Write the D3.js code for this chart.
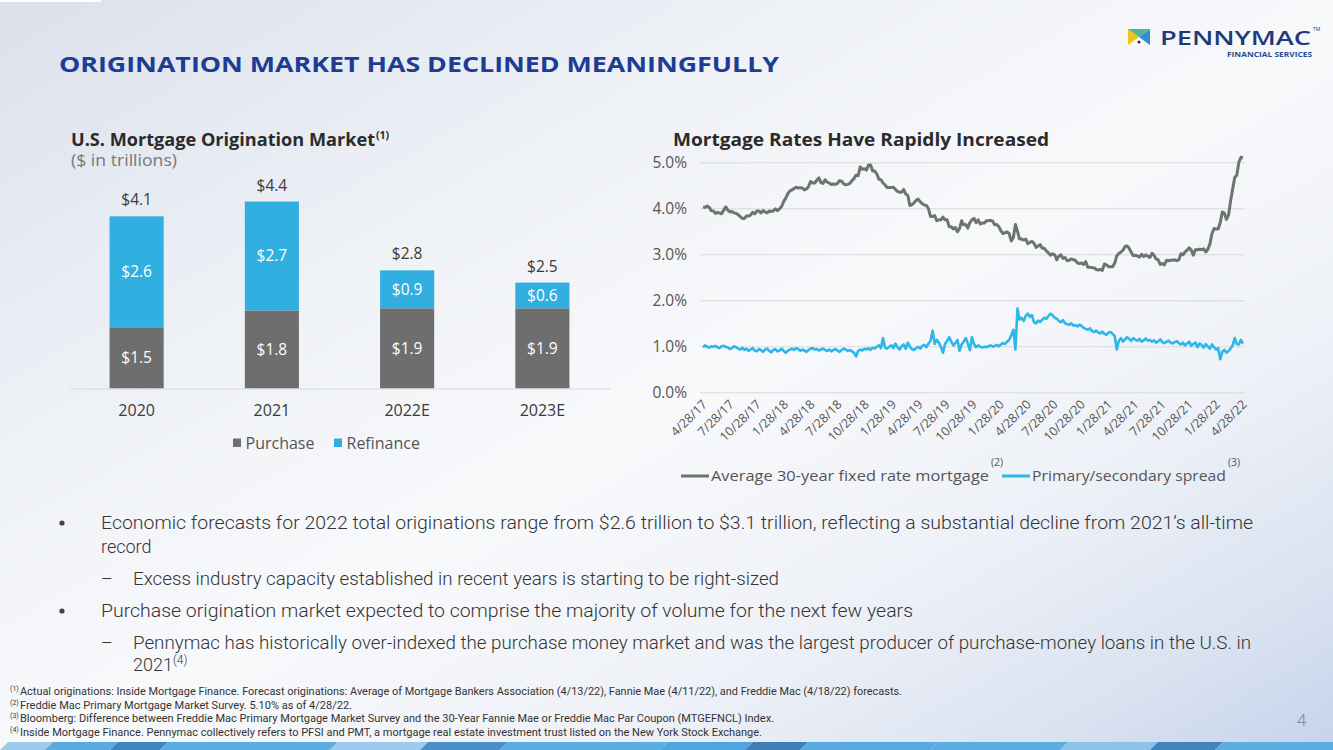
<!DOCTYPE html>
<html><head><meta charset="utf-8">
<script src="https://cdn.jsdelivr.net/npm/d3@7"></script>
<style>
html,body{margin:0;padding:0;width:1333px;height:750px;overflow:hidden;background:#fff;}
svg{display:block;}
</style></head><body>
<svg id="c" width="1333" height="750"></svg>
<script>
// ---------------- DATA ----------------
const barCategories = ["2020", "2021", "2022E", "2023E"];
const purchaseValues = [1.45, 1.85, 1.90, 1.90];
const refinanceValues = [2.63, 2.58, 0.90, 0.61];
const purchaseLabels = ["$1.5", "$1.8", "$1.9", "$1.9"];
const refinanceLabels = ["$2.6", "$2.7", "$0.9", "$0.6"];
const totalLabels = ["$4.1", "$4.4", "$2.8", "$2.5"];
const barSeriesNames = ["Purchase", "Refinance"];

const rateFirstWeek = "2017-04-27";   // weekly observations (Thursdays)
const rateLastWeek = "2022-04-28";
const mortgageRate = [
  4.03,4.02,4.05,4.02,3.95, 3.94,3.89,3.91,3.90,3.88, 3.96,4.03,3.96,3.92, 3.93,3.90,3.89,3.86,3.82,
  3.78,3.78,3.83,3.83, 3.85,3.91,3.88,3.94, 3.94,3.90,3.95,3.92,3.90, 3.94,3.93,3.94,3.99,
  3.95,3.99,4.04,4.15, 4.22,4.32,4.38,4.40, 4.43,4.46,4.44,4.45,4.44, 4.40,4.42,4.47,4.58,
  4.55,4.55,4.61,4.66,4.56, 4.54,4.62,4.57,4.55, 4.52,4.53,4.52,4.54, 4.60,4.59,4.53,4.51,4.52,
  4.54,4.60,4.65,4.72, 4.71,4.90,4.85,4.86, 4.83,4.94,4.94,4.81,4.81, 4.75,4.63,4.62,4.55,
  4.51,4.45,4.45,4.45,4.46, 4.41,4.37,4.35,4.35, 4.41,4.31,4.28,4.06, 4.08,4.12,4.17,4.20,
  4.14,4.10,4.07,4.06,3.99, 3.82,3.82,3.84,3.73, 3.75,3.75,3.81,3.75, 3.75,3.60,3.60,3.55,3.58,
  3.49,3.56,3.73,3.64, 3.65,3.57,3.69,3.75,3.78, 3.69,3.75,3.66,3.68, 3.68,3.73,3.73,3.74,
  3.72,3.64,3.65,3.60,3.51, 3.45,3.47,3.49,3.45, 3.29,3.36,3.65,3.50, 3.33,3.33,3.31,3.33,3.23,
  3.26,3.28,3.24,3.15, 3.18,3.21,3.13,3.13, 3.07,3.03,2.98,3.01,2.99, 2.88,2.96,2.99,2.91,
  2.93,2.86,2.87,2.90, 2.88,2.87,2.81,2.80,2.81, 2.78,2.84,2.72,2.72, 2.71,2.71,2.67,2.66,2.67,
  2.65,2.79,2.77,2.73, 2.73,2.73,2.81,2.97, 3.02,3.05,3.09,3.17, 3.18,3.13,3.04,2.97,2.98,
  2.96,2.94,3.00,2.95, 2.99,2.96,2.93,3.02, 2.98,2.90,2.88,2.78,2.80, 2.77,2.87,2.86,2.87,
  2.87,2.88,2.86,2.88,3.01, 2.99,3.05,3.09,3.14, 3.09,2.98,3.10,3.10, 3.11,3.10,3.12,3.05,3.11,
  3.22,3.45,3.56,3.55, 3.55,3.69,3.92,3.89, 3.76,3.85,4.16,4.42,4.67, 4.72,5.00,5.11,5.10
];
const spreadRate = [
  0.98,1.02,0.99,0.97,1.00,0.99,1.01,0.98,0.96,1.00,1.01,0.99,0.97,0.94,0.96,1.00,0.98,0.95,0.93,0.97,
  0.92,0.95,0.90,0.93,0.96,0.91,0.89,0.94,0.92,0.88,0.93,0.95,0.90,0.87,0.92,0.94,0.89,0.91,0.95,0.90,0.86,0.90,
  0.93,0.95,0.92,0.96,0.94,0.90,0.93,0.91,0.88,0.92,0.95,0.96,0.93,0.94,0.91,0.93,0.95,0.92,0.90,0.93,
  0.89,0.92,0.94,0.91,0.88,0.92,0.95,0.93,0.90,0.92,0.89,0.86,
  0.78,0.90,0.93,0.91,0.95,0.93,0.96,0.92,0.97,0.95,0.99,1.02,0.96,
  1.18,0.97,0.95,0.99,1.02,0.96,1.06,0.98,0.93,1.00,1.04,0.95,1.08,0.99,0.94,0.92,0.96,0.99,0.95,1.01,1.03,0.98,1.06,1.12,
  1.34,1.05,1.14,1.08,0.99,0.86,1.05,1.12,1.20,1.10,1.02,1.07,1.14,0.90,1.04,1.10,1.18,1.06,0.92,1.20,1.05,0.98,1.02,0.99,
  0.97,0.99,0.98,1.00,1.02,0.99,1.01,1.03,1.00,1.04,1.07,1.05,1.10,1.14,1.24,1.36,0.93,
  1.82,1.58,1.62,1.55,1.66,1.71,1.64,1.68,1.52,1.50,1.56,1.53,1.58,1.62,1.60,1.66,1.71,1.67,1.62,1.60,1.55,1.52,1.57,1.50,
  1.48,1.47,1.50,1.45,1.46,1.43,1.47,1.44,1.40,1.38,1.36,1.39,1.33,1.31,1.34,1.30,1.28,1.32,1.27,1.25,1.30,1.31,1.27,1.22,
  0.93,1.12,1.18,1.10,1.15,1.20,1.16,1.12,1.18,1.14,1.12,1.16,1.10,1.13,1.17,1.12,1.14,
  1.10,1.13,1.08,1.11,1.15,1.09,1.07,1.10,1.12,1.08,1.06,1.09,1.11,1.07,1.04,1.08,
  1.02,1.06,1.10,1.01,1.05,1.08,0.98,1.06,1.03,0.97,1.05,1.00,0.95,1.04,0.98,0.93,
  0.96,0.72,0.88,0.92,0.86,0.90,0.95,1.02,1.18,1.05,1.04,1.14,1.06
];
const rateTicks = [0, 1, 2, 3, 4, 5];
const dateTickLabels = ["4/28/17","7/28/17","10/28/17","1/28/18","4/28/18","7/28/18","10/28/18",
  "1/28/19","4/28/19","7/28/19","10/28/19","1/28/20","4/28/20","7/28/20","10/28/20",
  "1/28/21","4/28/21","7/28/21","10/28/21","1/28/22","4/28/22"];
const lineSeriesNames = ["Average 30-year fixed rate mortgage", "Primary/secondary spread"];
const lineSeriesNotes = ["(2)", "(3)"];

(function () {
// ---------------- STYLE ----------------
const C = {
  navy: "#1d3c94", text: "#3a3a3a", grid: "#d9d9d9",
  purchase: "#6e6e6e", refi: "#30afe0",
  rateLine: "#6d746e", spreadLine: "#2db6e8"
};
const chartFont = "'Open Sans', 'Noto Sans', sans-serif";
const bodyFont = "Roboto, 'Noto Sans', sans-serif";

const svg = d3.select("#c");
const defs = svg.append("defs");

// background
const bg = defs.append("linearGradient").attr("id", "bg")
  .attr("x1", 0).attr("y1", 0).attr("x2", 1).attr("y2", 1);
[[0, "#dbe1ec"], [0.3, "#eef1f6"], [0.52, "#f8f9fb"], [0.72, "#eef1f7"], [0.88, "#dbe3f1"], [1, "#c6d3ec"]]
  .forEach(([o, c]) => bg.append("stop").attr("offset", o).attr("stop-color", c));
svg.append("rect").attr("width", 1333).attr("height", 750).attr("fill", "url(#bg)");
svg.append("rect").attr("x", 0).attr("y", 0).attr("width", 101).attr("height", 2).attr("fill", "#ffffff");

// title
svg.append("text").attr("x", 59).attr("y", 72)
  .attr("font-family", chartFont).attr("font-weight", 700).attr("font-size", 22)
  .attr("fill", C.navy).attr("textLength", 720).attr("lengthAdjust", "spacingAndGlyphs")
  .text("ORIGINATION MARKET HAS DECLINED MEANINGFULLY");

// logo
const logo = svg.append("g");
logo.append("polygon").attr("points", "1128,29 1139,37 1128,45").attr("fill", "#f2c417");
logo.append("polygon").attr("points", "1128,29 1150,29 1139,37").attr("fill", "#4fb893");
logo.append("polygon").attr("points", "1150,29 1150,45 1139,37").attr("fill", "#2f8fd0");
logo.append("polygon").attr("points", "1134,45 1139,37 1144,45").attr("fill", "#ffffff");
logo.append("circle").attr("cx", 1139).attr("cy", 42).attr("r", 1.6).attr("fill", "#1d2f6a");
logo.append("text").attr("x", 1160).attr("y", 45)
  .attr("font-family", "'Open Sans', sans-serif").attr("font-weight", 600).attr("font-size", 20)
  .attr("fill", "#1e3a7b").attr("textLength", 151).attr("lengthAdjust", "spacingAndGlyphs").text("PENNYMAC");
logo.append("text").attr("x", 1313).attr("y", 31).attr("font-family", chartFont)
  .attr("font-size", 5).attr("fill", "#1e3a7b").text("TM");
logo.append("text").attr("x", 1227).attr("y", 57)
  .attr("font-family", chartFont).attr("font-weight", 700).attr("font-size", 7.5)
  .attr("fill", "#2a4a8c").attr("textLength", 85).attr("lengthAdjust", "spacingAndGlyphs").text("FINANCIAL SERVICES");

// ---------------- LEFT: stacked bars ----------------
const left = svg.append("g");
left.append("text").attr("x", 71).attr("y", 146)
  .attr("font-family", chartFont).attr("font-weight", 700).attr("font-size", 17.5).attr("fill", "#2b2b2b")
  .attr("textLength", 304).attr("lengthAdjust", "spacingAndGlyphs")
  .text("U.S. Mortgage Origination Market");
left.append("text").attr("x", 376).attr("y", 139)
  .attr("font-family", chartFont).attr("font-weight", 700).attr("font-size", 10.5).attr("fill", "#2b2b2b").text("(1)");
left.append("text").attr("x", 71).attr("y", 166)
  .attr("font-family", chartFont).attr("font-size", 15.5).attr("fill", "#777")
  .attr("textLength", 106).attr("lengthAdjust", "spacingAndGlyphs").text("($ in trillions)");

const xb = d3.scaleBand().domain(barCategories).range([69, 610]).paddingInner(0.6).paddingOuter(0.3);
const yb = d3.scaleLinear().domain([0, 5]).range([388.5, 177.5]);

const stackRows = barCategories.map((c, i) => ({ cat: c, Purchase: purchaseValues[i], Refinance: refinanceValues[i] }));
const stacked = d3.stack().keys(barSeriesNames)(stackRows);
const segLabels = { Purchase: purchaseLabels, Refinance: refinanceLabels };
const segColor = { Purchase: C.purchase, Refinance: C.refi };

stacked.forEach(layer => {
  const g = left.append("g");
  g.selectAll("rect").data(layer).join("rect")
    .attr("x", d => xb(d.data.cat)).attr("width", xb.bandwidth())
    .attr("y", d => yb(d[1])).attr("height", d => yb(d[0]) - yb(d[1]))
    .attr("fill", segColor[layer.key]);
  g.selectAll("text").data(layer).join("text")
    .attr("x", d => xb(d.data.cat) + xb.bandwidth() / 2)
    .attr("y", d => (yb(d[0]) + yb(d[1])) / 2 + 5.5)
    .attr("text-anchor", "middle").attr("font-family", chartFont).attr("font-size", 15.5)
    .attr("fill", "#ffffff").text((d, i) => segLabels[layer.key][i]);
});
const topLayer = stacked[stacked.length - 1];
left.selectAll("text.tot").data(topLayer).join("text").attr("class", "tot")
  .attr("x", d => xb(d.data.cat) + xb.bandwidth() / 2).attr("y", d => yb(d[1]) - 11)
  .attr("text-anchor", "middle").attr("font-family", chartFont).attr("font-size", 15.5)
  .attr("fill", C.text).text((d, i) => totalLabels[i]);

const xAxisB = left.append("g").attr("transform", "translate(0,388.5)")
  .call(d3.axisBottom(xb).tickSize(0).tickPadding(16));
xAxisB.select(".domain").attr("stroke", C.grid).attr("stroke-width", 1.2);
xAxisB.selectAll("text").attr("font-family", chartFont).attr("font-size", 16).attr("fill", C.text);

// left legend
const lg = left.append("g");
const lgX = [233, 334];
barSeriesNames.forEach((n, i) => {
  lg.append("rect").attr("x", lgX[i]).attr("y", 438.5).attr("width", 8).attr("height", 8.5).attr("fill", segColor[n]);
  lg.append("text").attr("x", lgX[i] + 12.5).attr("y", 448.5).attr("font-family", chartFont)
    .attr("font-size", 16).attr("fill", "#555").text(n);
});

// ---------------- RIGHT: line chart ----------------
const right = svg.append("g");
right.append("text").attr("x", 673).attr("y", 146)
  .attr("font-family", chartFont).attr("font-weight", 700).attr("font-size", 17).attr("fill", "#2b2b2b")
  .attr("textLength", 376).attr("lengthAdjust", "spacingAndGlyphs")
  .text("Mortgage Rates Have Rapidly Increased");

const parseISO = d3.timeParse("%Y-%m-%d");
const parseTick = d3.timeParse("%m/%d/%y");
const t0 = parseISO(rateFirstWeek), t1 = parseISO(rateLastWeek);
const xr = d3.scaleTime().domain([t0, t1]).range([703, 1243]);
const yr = d3.scaleLinear().domain([0, 5]).range([392.3, 162.3]);

const yAxisR = right.append("g").attr("transform", "translate(700,0)")
  .call(d3.axisLeft(yr).tickValues(rateTicks).tickSize(-545).tickPadding(13)
    .tickFormat(d => d3.format(".1f")(d) + "%"));
yAxisR.select(".domain").remove();
yAxisR.selectAll("line").attr("stroke", C.grid).attr("stroke-width", 1);
yAxisR.selectAll("text").attr("font-family", chartFont).attr("font-size", 15.5).attr("fill", "#555");

const tickDates = dateTickLabels.map(s => parseTick(s));
const xAxisR = right.append("g").attr("transform", "translate(0,392.3)")
  .call(d3.axisBottom(xr).tickValues(tickDates).tickSize(0).tickFormat((d, i) => dateTickLabels[i]));
xAxisR.select(".domain").remove();
xAxisR.selectAll("text")
  .attr("font-family", chartFont).attr("font-size", 12.5).attr("fill", "#555")
  .attr("text-anchor", "end").attr("dy", 0).attr("y", 0)
  .attr("transform", "translate(4,13) rotate(-45)");

const weeks = mortgageRate.map((v, i) => d3.timeDay.offset(t0, 7 * i));
const lineGen = d3.line().x(d => xr(d[0])).y(d => yr(d[1])).curve(d3.curveLinear);
right.append("path").datum(weeks.map((w, i) => [w, spreadRate[i]]))
  .attr("d", lineGen).attr("fill", "none").attr("stroke", C.spreadLine).attr("stroke-width", 2.6)
  .attr("stroke-linejoin", "round");
right.append("path").datum(weeks.map((w, i) => [w, mortgageRate[i]]))
  .attr("d", lineGen).attr("fill", "none").attr("stroke", C.rateLine).attr("stroke-width", 3)
  .attr("stroke-linejoin", "round");

// right legend
const rl = right.append("g");
const legItems = [
  { x0: 681, color: C.rateLine, w: 278 },
  { x0: 1002, color: C.spreadLine, w: 194 }
];
legItems.forEach((it, i) => {
  rl.append("line").attr("x1", it.x0).attr("x2", it.x0 + 28).attr("y1", 476).attr("y2", 476)
    .attr("stroke", it.color).attr("stroke-width", 3);
  rl.append("text").attr("x", it.x0 + 30).attr("y", 481).attr("font-family", chartFont)
    .attr("font-size", 15).attr("fill", "#555")
    .attr("textLength", it.w).attr("lengthAdjust", "spacingAndGlyphs").text(lineSeriesNames[i]);
  rl.append("text").attr("x", it.x0 + 30 + it.w + 2).attr("y", 466).attr("font-family", chartFont)
    .attr("font-size", 10.5).attr("fill", "#555").text(lineSeriesNotes[i]);
});

// ---------------- BULLETS ----------------
const bl = svg.append("g").attr("font-family", bodyFont).attr("font-weight", 300)
  .attr("font-size", 18).attr("fill", "#333");
function line(x, y, parts, len) {
  const t = bl.append("text").attr("x", x).attr("y", y);
  if (len) t.attr("textLength", len).attr("lengthAdjust", "spacingAndGlyphs");
  parts.forEach(p => {
    const s = t.append("tspan").text(p.t);
    if (p.sup) s.attr("font-size", 12).attr("dy", -7);
  });
}
function bullet(y) {
  bl.append("circle").attr("cx", 62).attr("cy", y - 6).attr("r", 2.6).attr("fill", "#444");
}
bullet(529);
line(101, 529, [{ t: "Economic forecasts for 2022 total originations range from $2.6 trillion to $3.1 trillion, reflecting a substantial decline from 2021’s all-time" }], 1152);
line(101, 553, [{ t: "record" }]);
bl.append("text").attr("x", 101).attr("y", 585).text("–");
line(133, 585, [{ t: "Excess industry capacity established in recent years is starting to be right-sized" }], 646);
bullet(617);
line(101, 617, [{ t: "Purchase origination market expected to comprise the majority of volume for the next few years" }], 812);
bl.append("text").attr("x", 101).attr("y", 649).text("–");
line(133, 649, [{ t: "Pennymac has historically over-indexed the purchase money market and was the largest producer of purchase-money loans in the U.S. in" }], 1118);
line(133, 671, [{ t: "2021" }, { t: "(4)", sup: true }]);

// ---------------- FOOTNOTES ----------------
const fn = svg.append("g").attr("font-family", bodyFont).attr("font-size", 10.5).attr("fill", "#333");
const notes = [
  ["(1)", "Actual originations: Inside Mortgage Finance. Forecast originations: Average of Mortgage Bankers Association (4/13/22), Fannie Mae (4/11/22), and Freddie Mac (4/18/22) forecasts.", 902],
  ["(2)", "Freddie Mac Primary Mortgage Market Survey. 5.10% as of 4/28/22.", 352],
  ["(3)", "Bloomberg: Difference between Freddie Mac Primary Mortgage Market Survey and the 30-Year Fannie Mae or Freddie Mac Par Coupon (MTGEFNCL) Index.", 774],
  ["(4)", "Inside Mortgage Finance. Pennymac collectively refers to PFSI and PMT, a mortgage real estate investment trust listed on the New York Stock Exchange.", 762]
];
notes.forEach((n, i) => {
  const y = 695 + i * 13.5;
  fn.append("text").attr("x", 10).attr("y", y - 4).attr("font-size", 7).text(n[0]);
  fn.append("text").attr("x", 20).attr("y", y).attr("textLength", n[2] - 20)
    .attr("lengthAdjust", "spacingAndGlyphs").text(n[1]);
});
svg.append("text").attr("x", 1297).attr("y", 726).attr("font-family", bodyFont).attr("font-weight", 300)
  .attr("font-size", 17).attr("fill", "#888").text("4");

// ---------------- BOTTOM BAND ----------------
const band = svg.append("g");
const bandSegs = [
  [0, 45, "#9ecbec"], [45, 110, "#5aa9df"], [110, 160, "#3e85bf"], [160, 330, "#5aaee2"],
  [330, 420, "#9dcaee"], [420, 500, "#4a8fc8"], [500, 660, "#5aaee2"], [660, 745, "#4fa6de"],
  [745, 800, "#3d7fb6"], [800, 930, "#56aae0"], [930, 1060, "#5aaee2"], [1060, 1150, "#8fc2ea"],
  [1150, 1215, "#3f84bc"], [1215, 1333, "#5aaee2"]
];
band.selectAll("polygon").data(bandSegs).join("polygon")
  .attr("points", d => `${d[0]},750 ${d[0] + 8},742 ${d[1] + 8},742 ${d[1]},750`)
  .attr("fill", d => d[2]);
})();
</script>
</body></html>
